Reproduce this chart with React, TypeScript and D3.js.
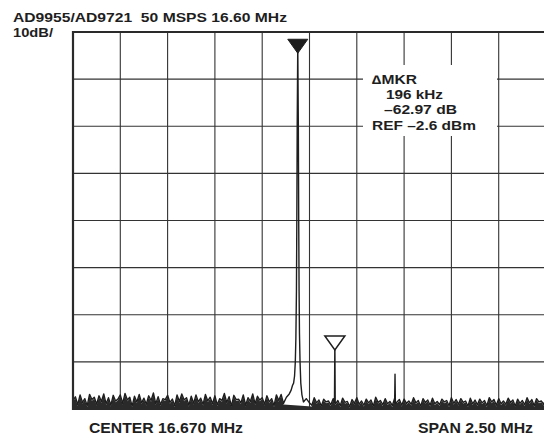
import React from "react";
import * as d3 from "d3";

// ---- data ----
const titleText = "AD9955/AD9721  50 MSPS 16.60 MHz";
const scaleText = "10dB/";
const markerLines = ["\u2206MKR", "196 kHz", "\u201362.97 dB", "REF \u20132.6 dBm"];
const centerText = "CENTER 16.670 MHz";
const spanText = "SPAN 2.50 MHz";

const centerMHz = 16.67;
const spanMHz = 2.5;
const refDb = 0; // top of screen
const dbPerDiv = 10;
const xDivs = 10;
const yDivs = 8;

const noiseStartMHz = 15.42;
const noiseStepMHz = 0.0125;
// noise floor trace in dB (one value per step)
const noiseDb = [
  -78.2, -77.4, -79.1, -77.0, -78.6, -77.8, -79.3, -76.9, -78.0, -77.5,
  -79.0, -77.2, -78.4, -76.8, -78.9, -77.6, -79.2, -77.1, -78.3, -77.9,
  -77.0, -78.8, -76.7, -78.1, -77.5, -79.4, -77.3, -78.5, -76.9, -78.7,
  -77.7, -79.0, -77.2, -78.2, -76.6, -78.9, -77.4, -79.1, -77.8, -78.0,
  -77.1, -78.6, -77.9, -79.3, -77.0, -78.4, -76.8, -78.1, -77.6, -79.2,
  -77.3, -78.8, -77.0, -78.5, -77.7, -79.0, -76.9, -78.3, -77.5, -78.9,
  -77.2, -79.1, -77.8, -78.2, -76.7, -78.6, -77.4, -79.4, -77.1, -78.0,
  -77.9, -78.7, -77.0, -79.2, -77.6, -78.4, -76.8, -78.9, -77.3, -78.1,
  -77.6, -79.0, -77.2, -78.5, -77.8, -79.3, -77.0, -78.2, -76.9, -78.8,
  -77.4, -78.0, -77.1, -79.1, -77.7, -78.6, -77.3, -78.3, -77.0, -78.9,
  -78.0, -79.2, -77.6, -78.7, -78.1, -79.4, -77.9, -78.5, -78.3, -79.1,
  -77.8, -78.9, -78.2, -79.3, -77.7, -78.6, -78.4, -79.5, -78.0, -78.8,
  -77.6, -79.0, -78.3, -79.2, -77.9, -78.7, -78.1, -79.4, -77.5, -78.6,
  -78.2, -79.1, -77.8, -78.9, -78.4, -79.3, -77.7, -78.5, -78.0, -79.2,
  -77.9, -78.8, -78.3, -79.0, -77.6, -78.7, -78.2, -79.4, -77.8, -78.6,
  -78.1, -79.2, -77.7, -78.9, -78.4, -79.1, -77.9, -78.5, -78.2, -79.3,
  -77.6, -78.8, -78.0, -79.0, -77.8, -78.6, -78.3, -79.4, -77.7, -78.9,
  -78.1, -79.1, -77.9, -78.7, -78.2, -79.3, -77.6, -78.5, -78.0, -79.2,
  -77.8, -78.9, -78.3, -79.0, -77.7, -78.6, -78.1, -79.4, -77.9, -78.8,
  -78.2, -79.1, -77.6, -78.7, -78.0, -79.3, -77.8, -78.5, -78.3, -79.0,
  -77.9,
];

// main carrier
const mainPeakMHz = 16.608;
const mainPeakOffsetsKHz = [-60, -45, -35, -28, -22, -17, -13, -10, -7, -5, -3, 0, 3, 5, 7, 9, 12, 16, 22, 30, 45, 60];
const mainPeakDb = [-77.5, -76.8, -76, -75, -74.5, -73, -70, -65, -55, -40, -20, -2.6, -20, -40, -55, -64, -70, -74.5, -77, -78.5, -77.8, -78.6];

// narrow spurs
const spurMHz = [16.804, 17.122];
const spurDb = [-65.57, -72.6];

// ---- layout ----
const W = 544;
const H = 436;
const left = 73;
const right = 546;
const top = 32;
const bottom = 409;

export default function App() {
  const x = d3.scaleLinear().domain([centerMHz - spanMHz / 2, centerMHz + spanMHz / 2]).range([left, right]);
  const y = d3.scaleLinear().domain([refDb, refDb - dbPerDiv * yDivs]).range([top, bottom]);

  type P = { f: number; db: number; noise: boolean };
  const pts: P[] = [];
  noiseDb.forEach((db, i) => {
    const f = noiseStartMHz + i * noiseStepMHz;
    if (Math.abs(f - mainPeakMHz) < 0.065) return;
    pts.push({ f, db, noise: true });
  });
  mainPeakOffsetsKHz.forEach((o, i) => pts.push({ f: mainPeakMHz + o / 1000, db: mainPeakDb[i], noise: false }));
  spurMHz.forEach((f, i) => {
    pts.push({ f: f - 0.002, db: -78.6, noise: false });
    pts.push({ f, db: spurDb[i], noise: false });
    pts.push({ f: f + 0.002, db: -78.8, noise: false });
  });
  pts.sort((a, b) => a.f - b.f);

  const line = d3.line<P>().x((d) => x(d.f)).y((d) => y(d.db));
  const noisePts = pts.filter((d) => d.noise);
  const area = d3
    .area<P>()
    .defined((d) => Math.abs(d.f - mainPeakMHz) > 0.07)
    .x((d) => x(d.f))
    .y0(bottom)
    .y1((d) => y(d.db) + 1.2);

  const xGrid = d3.range(1, xDivs).map((i) => left + ((right - left) * i) / xDivs);
  const yGrid = d3.range(1, yDivs).map((j) => y(refDb - dbPerDiv * j));

  const mkX = x(mainPeakMHz);
  const mkY = y(mainPeakDb[mainPeakOffsetsKHz.indexOf(0)]);
  const dX = x(spurMHz[0]);
  const dY = y(spurDb[0]);
  const tri = (cx: number, cy: number) => `M${cx - 10},${cy - 5}L${cx + 10},${cy - 5}L${cx},${cy + 9}Z`;

  const font = "'Liberation Sans', Arial, Helvetica, sans-serif";
  const ink = "#1e1e1e";
  const pre = { whiteSpace: "pre" as const };

  return (
    <svg width={W} height={H} style={{ position: "absolute", left: 0, top: 0, background: "#fff" }} fontFamily={font}>
      <rect x={0} y={0} width={W} height={H} fill="#fff" />
      {/* grid */}
      {xGrid.map((gx, i) => (
        <line key={"vx" + i} x1={gx} x2={gx} y1={top} y2={bottom} stroke="#333" strokeWidth={1.1} />
      ))}
      {yGrid.map((gy, i) => (
        <line key={"hy" + i} x1={left} x2={right} y1={gy} y2={gy} stroke="#333" strokeWidth={1.1} />
      ))}
      {/* annotation box blanks grid */}
      <rect x={363} y={65} width={134} height={71} fill="#fff" />
      {/* trace */}
      <path d={area(noisePts) || ""} fill="#2a2a2a" />
      <path d={line(pts) || ""} fill="none" stroke={ink} strokeWidth={1.4} strokeLinejoin="round" />
      {/* frame */}
      <path d={`M${right},${top}L${left},${top}L${left},${bottom}L${right},${bottom}`} fill="none" stroke="#2a2a2a" strokeWidth={2.2} />
      {/* markers */}
      <path d={tri(mkX, mkY)} fill={ink} stroke={ink} strokeWidth={1} />
      <path d={tri(dX, dY)} fill="#fff" stroke={ink} strokeWidth={1.5} />
      {/* texts */}
      <g fill={ink} fontWeight="bold">
        <text x={13} y={22} fontSize={13.5} textLength={274} lengthAdjust="spacingAndGlyphs" style={pre}>{titleText}</text>
        <text x={13} y={36.5} fontSize={13.5} textLength={40} lengthAdjust="spacingAndGlyphs">{scaleText}</text>
        <text x={372} y={84} fontSize={12.5} textLength={45} lengthAdjust="spacingAndGlyphs">{markerLines[0]}</text>
        <text x={386} y={99} fontSize={12.5} textLength={57} lengthAdjust="spacingAndGlyphs">{markerLines[1]}</text>
        <text x={384} y={114} fontSize={12.5} textLength={73} lengthAdjust="spacingAndGlyphs">{markerLines[2]}</text>
        <text x={372} y={130} fontSize={12.5} textLength={104} lengthAdjust="spacingAndGlyphs">{markerLines[3]}</text>
        <text x={89} y={433} fontSize={14} textLength={154} lengthAdjust="spacingAndGlyphs">{centerText}</text>
        <text x={418} y={433} fontSize={14} textLength={115} lengthAdjust="spacingAndGlyphs">{spanText}</text>
      </g>
    </svg>
  );
}
